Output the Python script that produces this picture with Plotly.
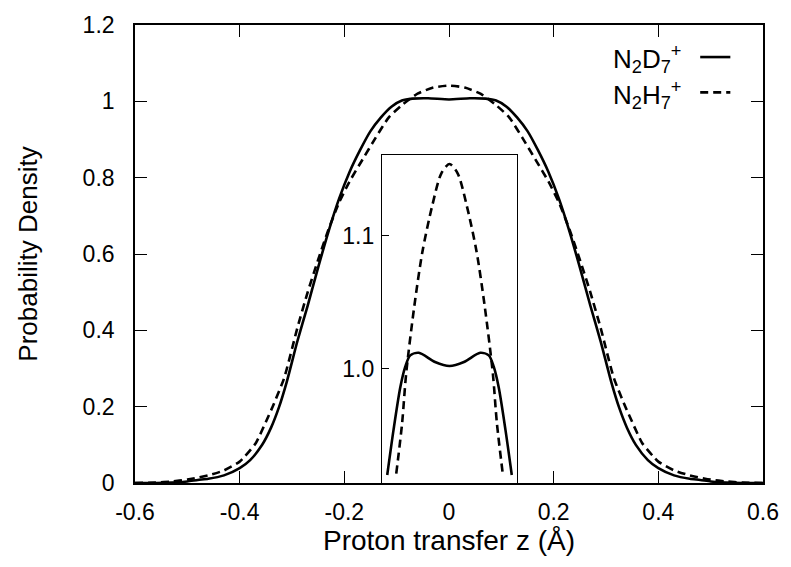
import plotly.graph_objects as go

# ---- main panel data ----
z_d = [-0.60, -0.56, -0.53, -0.50, -0.48, -0.46, -0.43, -0.40, -0.38, -0.357, -0.34, -0.325, -0.31,
       -0.29, -0.27, -0.25, -0.23, -0.21, -0.19, -0.17, -0.15, -0.13, -0.11, -0.09, -0.07, -0.04,
       0.00, 0.04, 0.07, 0.09, 0.11, 0.13, 0.15, 0.17, 0.19, 0.21, 0.23, 0.25, 0.27, 0.29, 0.31,
       0.325, 0.34, 0.357, 0.38, 0.40, 0.43, 0.46, 0.48, 0.50, 0.53, 0.56, 0.60]
p_d = [0.0, 0.0, 0.001, 0.004, 0.008, 0.011, 0.02, 0.039, 0.06, 0.10, 0.145, 0.198, 0.265,
       0.37, 0.465, 0.565, 0.66, 0.745, 0.815, 0.872, 0.922, 0.958, 0.986, 1.002, 1.007, 1.008,
       1.005, 1.008, 1.007, 1.002, 0.986, 0.958, 0.922, 0.872, 0.815, 0.745, 0.66, 0.565, 0.465, 0.37, 0.265,
       0.198, 0.145, 0.10, 0.06, 0.039, 0.02, 0.011, 0.008, 0.004, 0.001, 0.0, 0.0]

z_h = [-0.60, -0.56, -0.53, -0.50, -0.48, -0.46, -0.43, -0.40, -0.39, -0.369, -0.35, -0.337, -0.315,
       -0.29, -0.27, -0.25, -0.23, -0.21, -0.19, -0.165, -0.14, -0.115, -0.09, -0.06, -0.03,
       0.00, 0.03, 0.06, 0.09, 0.115, 0.14, 0.165, 0.19, 0.21, 0.23, 0.25, 0.27, 0.29,
       0.315, 0.337, 0.35, 0.369, 0.39, 0.40, 0.43, 0.46, 0.48, 0.50, 0.53, 0.56, 0.60]
p_h = [0.0, 0.001, 0.004, 0.009, 0.014, 0.02, 0.033, 0.056, 0.07, 0.105, 0.16, 0.20, 0.275,
       0.405, 0.50, 0.585, 0.665, 0.735, 0.79, 0.848, 0.905, 0.958, 0.99, 1.02, 1.036,
       1.041, 1.036, 1.02, 0.99, 0.958, 0.905, 0.848, 0.79, 0.735, 0.665, 0.585, 0.50, 0.405,
       0.275, 0.20, 0.16, 0.105, 0.07, 0.056, 0.033, 0.02, 0.014, 0.009, 0.004, 0.001, 0.0]

# ---- inset data ----
zi_d = [-0.138, -0.124, -0.109, -0.098, -0.087, -0.068, -0.032, 0.0, 0.032, 0.068, 0.087, 0.098, 0.109, 0.124, 0.138]
pi_d = [0.920, 0.954, 0.986, 1.0015, 1.010, 1.012, 1.005, 1.002, 1.005, 1.012, 1.010, 1.0015, 0.986, 0.954, 0.920]

zi_h = [-0.118, -0.105, -0.096, -0.078, -0.060, -0.038, -0.018, 0.0, 0.018, 0.038, 0.060, 0.078, 0.096, 0.105, 0.118]
pi_h = [0.921, 0.959, 0.9965, 1.047, 1.088, 1.123, 1.147, 1.154, 1.147, 1.123, 1.088, 1.047, 0.9965, 0.959, 0.921]

x_ticks = [-0.6, -0.4, -0.2, 0, 0.2, 0.4, 0.6]
x_tick_labels = ["-0.6", "-0.4", "-0.2", "0", "0.2", "0.4", "0.6"]
y_ticks = [0, 0.2, 0.4, 0.6, 0.8, 1.0, 1.2]
y_tick_labels = ["0", "0.2", "0.4", "0.6", "0.8", "1", "1.2"]
inset_y_ticks = [1.0, 1.1]
inset_y_labels = ["1.0", "1.1"]

series_names = ["N<sub>2</sub>D<sub>7</sub><sup>+</sup>", "N<sub>2</sub>H<sub>7</sub><sup>+</sup>"]

FONT = "Liberation Sans, Arial, sans-serif"
TICK_SIZE = 23
LW = 2.6
DASH = "8px,5px"

fig = go.Figure()
fig.add_trace(go.Scatter(x=z_d, y=p_d, mode="lines", line=dict(color="black", width=LW, shape="spline", smoothing=0.6),
                         showlegend=False, xaxis="x", yaxis="y"))
fig.add_trace(go.Scatter(x=z_h, y=p_h, mode="lines", line=dict(color="black", width=LW, dash=DASH, shape="spline", smoothing=0.6),
                         showlegend=False, xaxis="x", yaxis="y"))
fig.add_trace(go.Scatter(x=zi_d, y=pi_d, mode="lines", line=dict(color="black", width=LW, shape="spline", smoothing=0.8),
                         showlegend=False, xaxis="x2", yaxis="y2"))
fig.add_trace(go.Scatter(x=zi_h, y=pi_h, mode="lines", line=dict(color="black", width=LW, dash=DASH, shape="spline", smoothing=0.8),
                         showlegend=False, xaxis="x2", yaxis="y2"))

axis_common = dict(showgrid=False, zeroline=False, showline=True, linecolor="black", linewidth=1.6,
                   ticks="inside", ticklen=12, tickwidth=1.3, tickcolor="black", mirror="allticks",
                   tickfont=dict(family=FONT, size=TICK_SIZE, color="black"))

fig.update_layout(
    width=791, height=567,
    margin=dict(l=135, r=25, t=25, b=84),
    paper_bgcolor="white", plot_bgcolor="white",
    font=dict(family=FONT, size=TICK_SIZE, color="black"),
    xaxis=dict(range=[-0.6, 0.6], tickvals=x_ticks, ticktext=x_tick_labels, ticklabelstandoff=8,
               title=dict(text="Proton transfer z (Å)", font=dict(family=FONT, size=28), standoff=6),
               **axis_common),
    yaxis=dict(range=[0, 1.2], tickvals=y_ticks, ticktext=y_tick_labels, ticklabelstandoff=14,
               title=dict(text="Probability Density", font=dict(family=FONT, size=26), standoff=38),
               **axis_common),
    xaxis2=dict(domain=[0.393, 0.6086], anchor="y2", range=[-0.15, 0.15], showgrid=False, zeroline=False,
                showline=True, linecolor="black", linewidth=1, mirror=True, tickvals=[], showticklabels=False),
    yaxis2=dict(domain=[0.0, 0.716], anchor="x2", range=[0.914, 1.1607], showgrid=False, zeroline=False,
                showline=True, linecolor="black", linewidth=1, mirror=True, ticks="inside", ticklen=7,
                tickwidth=1, tickcolor="black", tickvals=inset_y_ticks, ticktext=inset_y_labels,
                tickfont=dict(family=FONT, size=TICK_SIZE, color="black"), ticklabelstandoff=2),
)

# legend (text left, sample line right, as in the reference)
leg_rows = [0.925, 0.848]
leg_dash = ["solid", DASH]
for name, yy, dsh in zip(series_names, leg_rows, leg_dash):
    fig.add_annotation(x=0.873, y=yy, xref="paper", yref="paper", text=name, showarrow=False,
                       xanchor="right", yanchor="middle", font=dict(family=FONT, size=26, color="black"))
    fig.add_shape(type="line", xref="paper", yref="paper", x0=0.900, x1=0.948, y0=yy + 0.005, y1=yy + 0.005,
                  line=dict(color="black", width=LW, dash=dsh))

fig.write_html("out.html")
